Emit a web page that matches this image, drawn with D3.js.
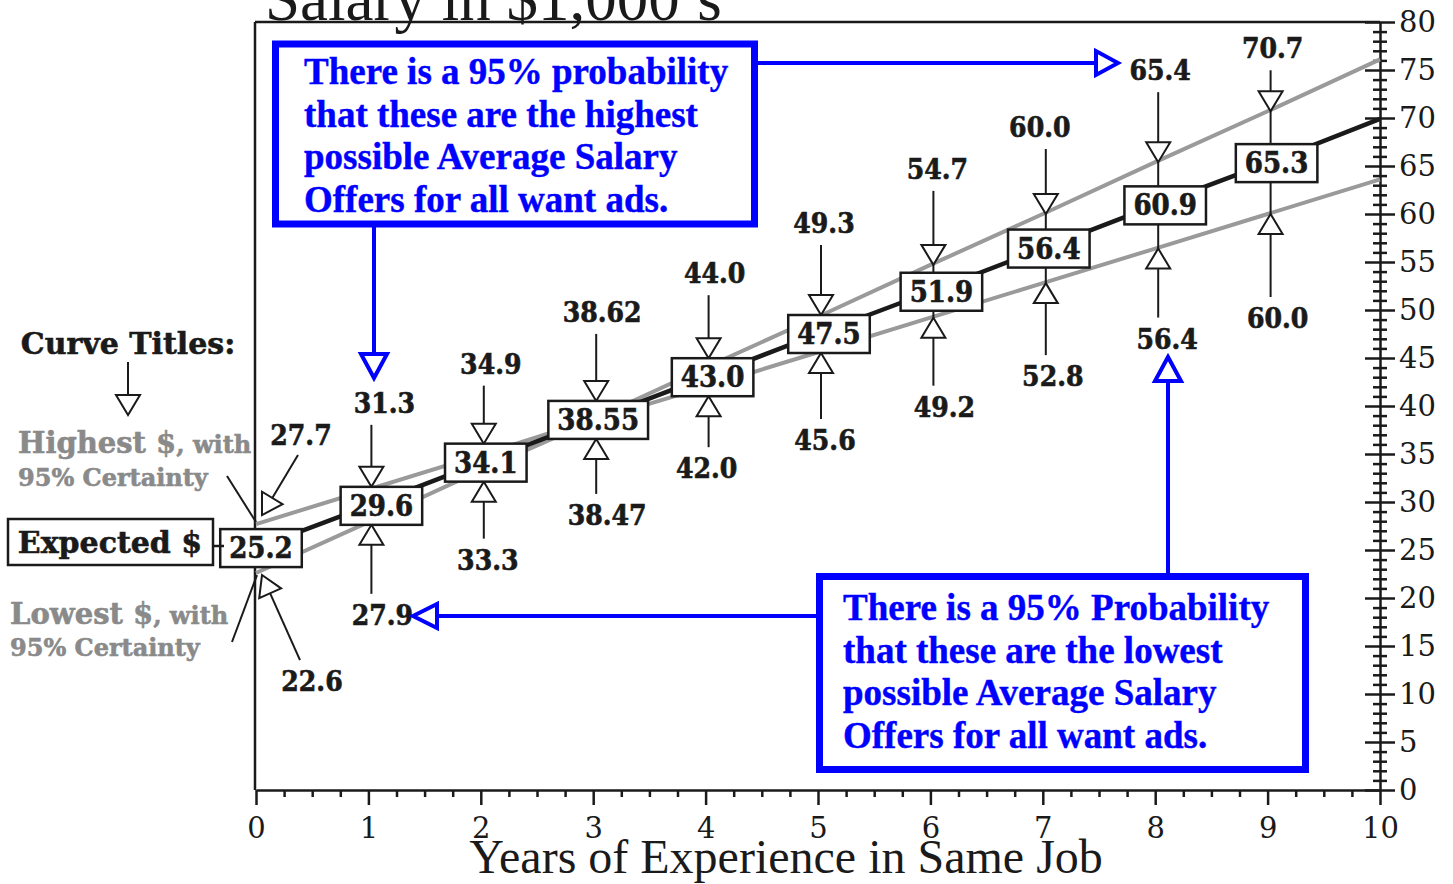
<!DOCTYPE html>
<html>
<head>
<meta charset="utf-8">
<script src="https://cdn.jsdelivr.net/npm/d3@7"></script>
<style>
  body { margin: 0; background: #fff; }
  .lbl { font-family: "DejaVu Serif Condensed", "DejaVu Serif", serif; font-weight: bold; font-stretch: condensed; fill: #1a1a1a; stroke: #1a1a1a; stroke-width: 0.6px; }
  .wide { font-family: "DejaVu Serif", serif; font-weight: bold; font-stretch: normal; }
  .grey { fill: #8a8a8a; stroke: #8a8a8a; }
  .blue { font-family: "Liberation Serif", "Times New Roman", serif; font-weight: bold; fill: #0000ff; stroke: #0000ff; stroke-width: 0.4px; }
  .tick text { font-family: "DejaVu Serif", serif; }
</style>
</head>
<body>
<script>
// years of experience and the three salary curves ($1,000's)
var years = [0, 1, 2, 3, 4, 5, 6, 7, 8, 9, 10];
var expected = [25.2, 29.6, 34.1, 38.55, 43.0, 47.5, 51.9, 56.4, 60.9, 65.3, 69.9];
var highest = [27.7, 31.3, 34.9, 38.62, 44.0, 49.3, 54.7, 60.0, 65.4, 70.7, 76.1];
var lowest = [22.6, 27.9, 33.3, 38.47, 42.0, 45.6, 49.2, 52.8, 56.4, 60.0, 63.6];
var xTicks = [0, 1, 2, 3, 4, 5, 6, 7, 8, 9, 10];
var yTicks = [0, 5, 10, 15, 20, 25, 30, 35, 40, 45, 50, 55, 60, 65, 70, 75, 80];

// label nudges (pixels) so the callouts sit like the original
var upGap = [0, 74, 70, 79, 75, 82, 86, 77, 82, 53];
var loGap = [0, 100, 88, 86, 82, 97, 99, 103, 100, 114];
var upDx = [0, 16, 10, 9, 9, 6, 7, -3, 5, 5];
var loDx = [0, 14, 7, 14, 1, 7, 14, 10, 12, 10];
var boxDx = [5, 13, 5, 5, 7, 11, 11, 6, 10, 9];

var width = 1453, height = 884;
var svg = d3.select("body").append("svg")
    .attr("width", width)
    .attr("height", height);

var x = d3.scaleLinear().domain([0, 10]).range([256, 1380]);
var y = d3.scaleLinear().domain([0, 80]).range([790, 22]);

function fmt(v) {
    return Math.round(v * 10) / 10 === v ? v.toFixed(1) : v.toFixed(2);
}

// arrow: line from (x1,y1) to tip (x2,y2) with an open triangle head
function arrow(g, x1, y1, x2, y2, o) {
    o = o || {};
    var col = o.color || "#1a1a1a", sw = o.sw || 2, len = o.len || 20, w = o.w || 24;
    var dx = x2 - x1, dy = y2 - y1, d = Math.sqrt(dx * dx + dy * dy);
    var ux = dx / d, uy = dy / d, nx = -uy, ny = ux;
    var bx = x2 - ux * len, by = y2 - uy * len;
    g.append("line").attr("x1", x1).attr("y1", y1).attr("x2", bx).attr("y2", by)
        .attr("stroke", col).attr("stroke-width", sw);
    g.append("path")
        .attr("d", "M" + x2 + "," + y2 + "L" + (bx + nx * w / 2) + "," + (by + ny * w / 2) +
            "L" + (bx - nx * w / 2) + "," + (by - ny * w / 2) + "Z")
        .attr("fill", "#fff").attr("stroke", col).attr("stroke-width", sw)
        .attr("stroke-linejoin", "miter");
}

// title (cut off at the top like the original)
svg.append("text")
    .attr("x", 265).attr("y", 20)
    .style("font-family", "'Liberation Serif', 'Times New Roman', serif")
    .style("font-size", "63px")
    .attr("fill", "#1a1a1a")
    .text("Salary in $1,000\u2019s");

svg.append("text")
    .attr("x", 786).attr("y", 873)
    .attr("text-anchor", "middle")
    .style("font-family", "'Liberation Serif', 'Times New Roman', serif")
    .style("font-size", "48px")
    .attr("fill", "#1a1a1a")
    .text("Years of Experience in Same Job");

// frame
svg.append("line").attr("x1", 255).attr("x2", 1380).attr("y1", 22).attr("y2", 22)
    .attr("stroke", "#1a1a1a").attr("stroke-width", 2.5);
svg.append("line").attr("x1", 255).attr("x2", 255).attr("y1", 22).attr("y2", 790)
    .attr("stroke", "#1a1a1a").attr("stroke-width", 2.5);

// x axis
var xAxis = svg.append("g").attr("transform", "translate(0,790)")
    .call(d3.axisBottom(x).tickValues(xTicks).tickSize(15).tickSizeOuter(0).tickPadding(8).tickFormat(d3.format("d")));
svg.append("g").attr("transform", "translate(0,790)")
    .call(d3.axisBottom(x).tickValues(d3.range(0, 10, 0.25).filter(function (d) { return d % 1 !== 0; }))
        .tickSize(7).tickSizeOuter(0).tickFormat(""))
    .select(".domain").remove();
xAxis.selectAll("text").style("font-size", "29px").attr("fill", "#1a1a1a").attr("dy", "0.85em");

// y axis on the right
var yAxis = svg.append("g").attr("transform", "translate(1380,0)")
    .call(d3.axisRight(y).tickValues(yTicks).tickSize(15).tickSizeOuter(0).tickPadding(6));
yAxis.selectAll(".tick line").attr("x1", -15);
yAxis.selectAll("text").style("font-size", "29px").attr("fill", "#1a1a1a").attr("x", 19);
var yMinor = svg.append("g").attr("transform", "translate(1380,0)")
    .call(d3.axisRight(y).tickValues(d3.range(0, 81).filter(function (d) { return d % 5 !== 0; }))
        .tickSize(7).tickSizeOuter(0).tickFormat(""));
yMinor.select(".domain").remove();
yMinor.selectAll(".tick line").attr("x1", -7);
svg.selectAll(".domain, .tick line").attr("stroke", "#1a1a1a").attr("stroke-width", 2.5);

// curves
var line = d3.line()
    .x(function (d, i) { return x(years[i]); })
    .y(function (d) { return y(d); });

svg.append("path").datum(highest).attr("d", line)
    .attr("fill", "none").attr("stroke", "#9a9a9a").attr("stroke-width", 4);
svg.append("path").datum(lowest).attr("d", line)
    .attr("fill", "none").attr("stroke", "#9a9a9a").attr("stroke-width", 4);
svg.append("path").datum(expected).attr("d", line)
    .attr("fill", "none").attr("stroke", "#1a1a1a").attr("stroke-width", 4.5);

// callout arrows + labels
var ann = svg.append("g");
var boxH = 38;
years.slice(1, 10).forEach(function (yr) {
    var i = yr;
    var cy = y(expected[i]);
    var ax = x(yr) + 3;
    var tipUp = Math.min(y(highest[i]), cy - boxH / 2);
    var tipLo = Math.max(y(lowest[i]), cy + boxH / 2);
    var upBase = tipUp - upGap[i];
    var loBase = tipLo + loGap[i];
    ann.append("line").attr("x1", ax).attr("x2", ax).attr("y1", tipUp).attr("y2", cy)
        .attr("stroke", "#1a1a1a").attr("stroke-width", 2);
    ann.append("line").attr("x1", ax).attr("x2", ax).attr("y1", cy).attr("y2", tipLo)
        .attr("stroke", "#1a1a1a").attr("stroke-width", 2);
    arrow(ann, ax, upBase + 12, ax, tipUp);
    arrow(ann, ax, loBase - 31, ax, tipLo);
    ann.append("text").attr("class", "lbl").attr("x", x(yr) + upDx[i]).attr("y", upBase)
        .attr("text-anchor", "middle").style("font-size", "28px").text(fmt(highest[i]));
    ann.append("text").attr("class", "lbl").attr("x", x(yr) + loDx[i]).attr("y", loBase)
        .attr("text-anchor", "middle").style("font-size", "28px").text(fmt(lowest[i]));
});

// year 0 labels use slanted arrows
var x0 = x(years[0]);
arrow(ann, x0 + 42, y(highest[0]) - 69, x0 + 6, y(highest[0]) - 9);
ann.append("text").attr("class", "lbl").attr("x", x0 + 45).attr("y", y(highest[0]) - 79)
    .attr("text-anchor", "middle").style("font-size", "28px").text(fmt(highest[0]));
arrow(ann, x0 + 44, y(lowest[0]) + 87, x0 + 6, y(lowest[0]) + 2);
ann.append("text").attr("class", "lbl").attr("x", x0 + 56).attr("y", y(lowest[0]) + 118)
    .attr("text-anchor", "middle").style("font-size", "28px").text(fmt(lowest[0]));

// boxes for the expected values
years.slice(0, 10).forEach(function (yr) {
    var i = yr;
    var g = ann.append("g");
    var t = g.append("text").attr("class", "lbl").attr("x", x(yr) + boxDx[i]).attr("y", y(expected[i]) + 10)
        .attr("text-anchor", "middle").style("font-size", "29px").text(fmt(expected[i]));
    var w = t.node().getComputedTextLength() + 18;
    g.insert("rect", "text")
        .attr("x", x(yr) + boxDx[i] - w / 2).attr("y", y(expected[i]) - boxH / 2)
        .attr("width", w).attr("height", boxH)
        .attr("fill", "#fff").attr("stroke", "#1a1a1a").attr("stroke-width", 2.5);
});

// curve titles on the left
var left = svg.append("g");
left.append("text").attr("class", "lbl wide").attr("x", 128).attr("y", 354)
    .attr("text-anchor", "middle").style("font-size", "30px").text("Curve Titles:");
arrow(left, 128, 362, 128, 415);

var hi = left.append("text").attr("class", "lbl wide grey").attr("x", 18).attr("y", 453);
hi.append("tspan").style("font-size", "29px").text("Highest $");
hi.append("tspan").style("font-size", "24px").text(", with");
left.append("text").attr("class", "lbl wide grey").attr("x", 18).attr("y", 486)
    .style("font-size", "24px").text("95% Certainty");
var lo = left.append("text").attr("class", "lbl wide grey").attr("x", 10).attr("y", 624);
lo.append("tspan").style("font-size", "29px").text("Lowest $");
lo.append("tspan").style("font-size", "24px").text(", with");
left.append("text").attr("class", "lbl wide grey").attr("x", 10).attr("y", 656)
    .style("font-size", "24px").text("95% Certainty");

left.append("line").attr("x1", 227).attr("y1", 476).attr("x2", x0).attr("y2", y(highest[0]) - 2)
    .attr("stroke", "#1a1a1a").attr("stroke-width", 2);
left.append("line").attr("x1", 232).attr("y1", 642).attr("x2", x0 + 1).attr("y2", y(lowest[0]) + 2)
    .attr("stroke", "#1a1a1a").attr("stroke-width", 2);

left.append("line").attr("x1", 212).attr("x2", 224).attr("y1", 546).attr("y2", 546)
    .attr("stroke", "#1a1a1a").attr("stroke-width", 2.5);
left.append("rect").attr("x", 8).attr("y", 519).attr("width", 205).attr("height", 46)
    .attr("fill", "#fff").attr("stroke", "#1a1a1a").attr("stroke-width", 2.5);
left.append("text").attr("class", "lbl wide").attr("x", 110).attr("y", 553)
    .attr("text-anchor", "middle").style("font-size", "30px").text("Expected $");

// blue explanation boxes
var blue = "#0000ff";
var notes = svg.append("g");
function note(bx, by, bw, bh, lines, tx, ty) {
    notes.append("rect").attr("x", bx).attr("y", by).attr("width", bw).attr("height", bh)
        .attr("fill", "#fff").attr("stroke", blue).attr("stroke-width", 7);
    var t = notes.append("text").attr("class", "blue").style("font-size", "37px");
    lines.forEach(function (s, k) {
        t.append("tspan").attr("x", tx).attr("y", ty + k * 42.7).text(s);
    });
}
arrow(notes, 757, 63, 1118, 63, { color: blue, sw: 4, len: 22, w: 24 });
arrow(notes, 374, 226, 374, 378, { color: blue, sw: 4, len: 24, w: 26 });
arrow(notes, 1168, 573, 1168, 357, { color: blue, sw: 4, len: 24, w: 26 });
arrow(notes, 816, 616, 413, 616, { color: blue, sw: 4, len: 24, w: 24 });
note(275.5, 44, 479, 180,
    ["There is a 95% probability", "that these are the highest", "possible Average Salary", "Offers for all want ads."],
    304, 84);
note(819.5, 576.5, 486, 193,
    ["There is a 95% Probability", "that these are the lowest", "possible Average Salary", "Offers for all want ads."],
    843, 620);
</script>
</body>
</html>
